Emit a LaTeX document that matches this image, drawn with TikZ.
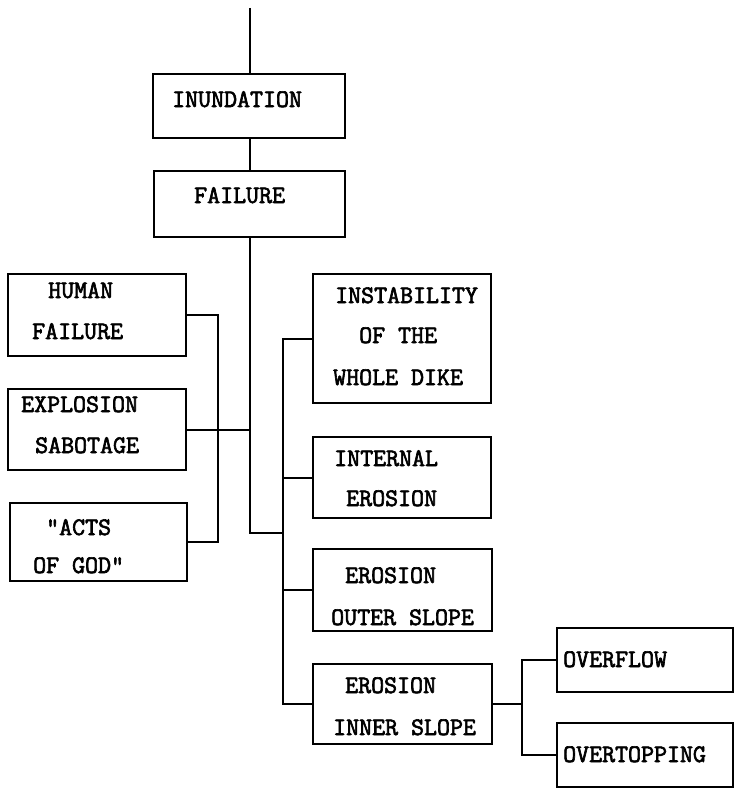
\documentclass[tikz,border=0pt]{standalone}
\usepackage{fontspec}
\newfontfamily\diamono[FakeBold=2.5]{Latin Modern Mono}
\tikzset{
  box/.style={draw, line width=2pt, rectangle, inner sep=0pt},
  txt/.style={anchor=base west, inner sep=0pt, font=\diamono\fontsize{25.2}{27}\selectfont},
  wire/.style={line width=2pt}
}
\newcommand{\boxat}[5]{% name, x1, y1, x2, y2
  \node[box, minimum width={#4-#2}, minimum height={#5-#3}] (#1) at ({(#2+#4)/2},{(#3+#5)/2}) {};}
\begin{document}
\begin{tikzpicture}[x=1pt,y=-1pt]
\useasboundingbox (0,0) rectangle (736,789);
% boxes
\boxat{inund}{153}{74}{345}{138}
\boxat{fail}{154}{171}{345}{237}
\boxat{human}{8}{274}{186}{356}
\boxat{expl}{8}{389}{186}{470}
\boxat{acts}{10}{503}{187}{581}
\boxat{inst}{313}{274}{491}{403}
\boxat{intern}{313}{437}{491}{518}
\boxat{outer}{313}{549}{492}{631}
\boxat{inner}{313}{664}{492}{744}
\boxat{overflow}{557}{628}{733}{692}
\boxat{overtop}{557}{723}{733}{787}
% texts
\node[txt] (tInund) at (172,107) {INUNDATION};
\node[txt] (tFail) at (194,203) {FAILURE};
\node[txt] (tHum1) at (48,298) {HUMAN};
\node[txt] (tHum2) at (32,339) {FAILURE};
\node[txt] (tExp1) at (21,412) {EXPLOSION};
\node[txt] (tExp2) at (35,453) {SABOTAGE};
\node[txt] (tAct1) at (46,535) {"ACTS};
\node[txt] (tAct2) at (33,573) {OF GOD"};
\node[txt] (tIns1) at (335,303) {INSTABILITY};
\node[txt] (tIns2) at (359,343) {OF THE};
\node[txt] (tIns3) at (333,385) {WHOLE DIKE};
\node[txt] (tInt1) at (334,466) {INTERNAL};
\node[txt] (tInt2) at (346,506) {EROSION};
\node[txt] (tOut1) at (345,583) {EROSION};
\node[txt] (tOut2) at (331,625) {OUTER SLOPE};
\node[txt] (tInn1) at (345,693) {EROSION};
\node[txt] (tInn2) at (333,735) {INNER SLOPE};
\node[txt] (tOvf) at (563,667) {OVERFLOW};
\node[txt] (tOvt) at (563,762) {OVERTOPPING};
% coordinates
\coordinate (top) at (250,8);
\coordinate (trunk) at (250,533);
\coordinate (busL) at (218,0);
\coordinate (busR) at (283,0);
\coordinate (busI) at (522,0);
% connectors
\draw[wire] (top) -- (inund.north -| top);
\draw[wire] (inund.south -| top) -- (fail.north -| top);
\draw[wire] (fail.south -| top) -- (trunk) -- (trunk -| busR);
\draw[wire] (inst.west) -- (inst.west -| busR) -- (inner.west -| busR) -- (inner.west);
\draw[wire] (intern.west) -- (intern.west -| busR);
\draw[wire] (outer.west) -- (outer.west -| busR);
\draw[wire] (human.east) -- (human.east -| busL) -- (acts.east -| busL) -- (acts.east);
\draw[wire] (expl.east) -- (expl.east -| top);
\draw[wire] (inner.east) -- (inner.east -| busI);
\draw[wire] (overflow.west) -- (overflow.west -| busI) -- (overtop.west -| busI) -- (overtop.west);
\end{tikzpicture}
\end{document}
